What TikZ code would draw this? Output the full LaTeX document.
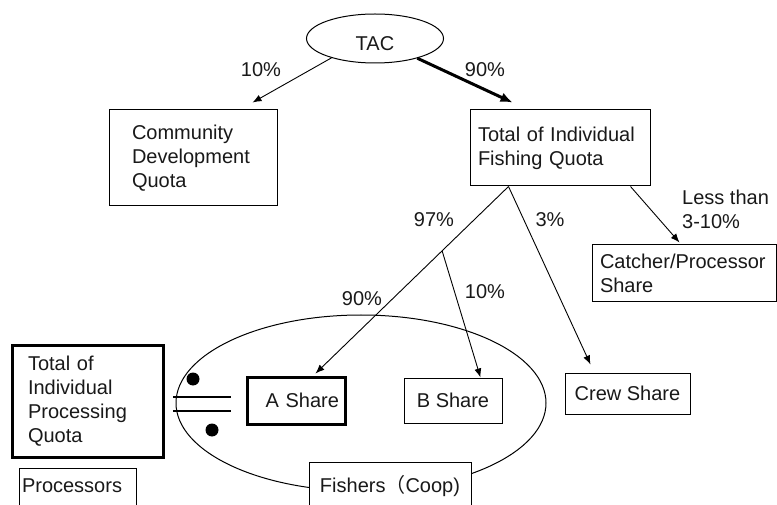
\documentclass[tikz,border=0pt]{standalone}
\usepackage{fontspec}
\setmainfont{Liberation Sans}
\newfontfamily\cjk{Noto Sans CJK JP}
\usetikzlibrary{arrows.meta,shapes.geometric}

\begin{document}
\begin{tikzpicture}[
  x=1pt, y=-1pt,
  every node/.style={font=\fontsize{20}{24}\selectfont, text=black!90},
  box/.style={draw, fill=white, line width=1pt, inner ysep=0pt},
  thickbox/.style={box, line width=3pt},
  arr/.style={-{Latex[length=9pt,width=7pt]}, line width=0.9pt},
  pct/.style={inner sep=0pt},
]
  \useasboundingbox (0,0) rectangle (777,505);
  \clip (0,0) rectangle (777,505);

  % Coop ring
  \draw[line width=1pt] (361,403) ellipse [x radius=185, y radius=88];

  % Quotas
  \node[ellipse, draw, line width=1pt, minimum width=137, minimum height=49, text height=24, text depth=0]
    (tac) at (375,38.5) {TAC};
  \node[box, minimum width=168, minimum height=96, text width=122, inner xsep=23, align=left]
    (cdq) at (193,158) {Community\\Development\\Quota};
  \node[box, minimum width=180, minimum height=76, text width=164, inner xsep=8, align=left]
    (tifq) at (560,148) {Total of Individual\\Fishing Quota};
  \node[box, minimum width=184, minimum height=57, text width=168, inner xsep=8, align=left]
    (cps) at (684,273.5) {Catcher/Processor\\Share};
  \node[thickbox, minimum width=151, minimum height=112, text width=119, inner xsep=16, align=left]
    (tipq) at (87.5,401) {Total of\\Individual\\Processing\\Quota};

  % Shares
  \node[thickbox, minimum width=98, minimum height=47, text width=86, inner xsep=6, align=right]
    (ash) at (296,400.5) {A Share};
  \node[box, minimum width=98, minimum height=45] (bsh) at (453,400.5) {B Share};
  \node[box, minimum width=125, minimum height=41] (crew) at (627.5,393.5) {Crew Share};

  % Holders
  \node[box, anchor=north, minimum width=162, text height=20, text depth=30, inner ysep=10]
    (fish) at (390,462) {Fishers{\cjk （}Coop)};
  \node[box, anchor=north, text width=111, inner xsep=3, align=left, text height=14, text depth=30, inner ysep=10]
    (proc) at (77.5,468) {Processors};

  % Allocation
  \draw[arr] (tac.204) -- ([xshift=-25pt,yshift=7pt]cdq.north east);
  \draw[-{Latex[length=12pt,width=10pt]}, line width=3pt] (tac.335) -- ([xshift=43pt,yshift=7pt]tifq.north west);
  \draw[arr] ([xshift=-20pt]tifq.south east) -- ([xshift=88pt,yshift=2pt]cps.north west);
  \draw[arr] ([xshift=39pt]tifq.south west) -- ([xshift=26pt,yshift=8pt]crew.north west);
  \draw[arr] ([xshift=39pt]tifq.south west) -- coordinate[pos=0.344] (split) ([xshift=70pt,yshift=2pt]ash.north west);
  \draw[arr] (split) -- ([xshift=77pt]bsh.north west);

  % Percentages
  \node[pct] at (261,70) {10\%};
  \node[pct] at (485,70) {90\%};
  \node[pct] at (434,220) {97\%};
  \node[pct] at (550,220) {3\%};
  \node[pct] at (485,292) {10\%};
  \node[pct] at (362,299) {90\%};
  \node[pct, anchor=west, align=left] at (682,209.5) {Less than\\3-10\%};

  % Equivalence mark
  \draw[line width=2pt] (173,397) -- (231,397);
  \draw[line width=2pt] (173,411) -- (231,411);
  \fill (193,379) circle (6.5);
  \fill (212,430) circle (6.5);

\end{tikzpicture}
\end{document}
